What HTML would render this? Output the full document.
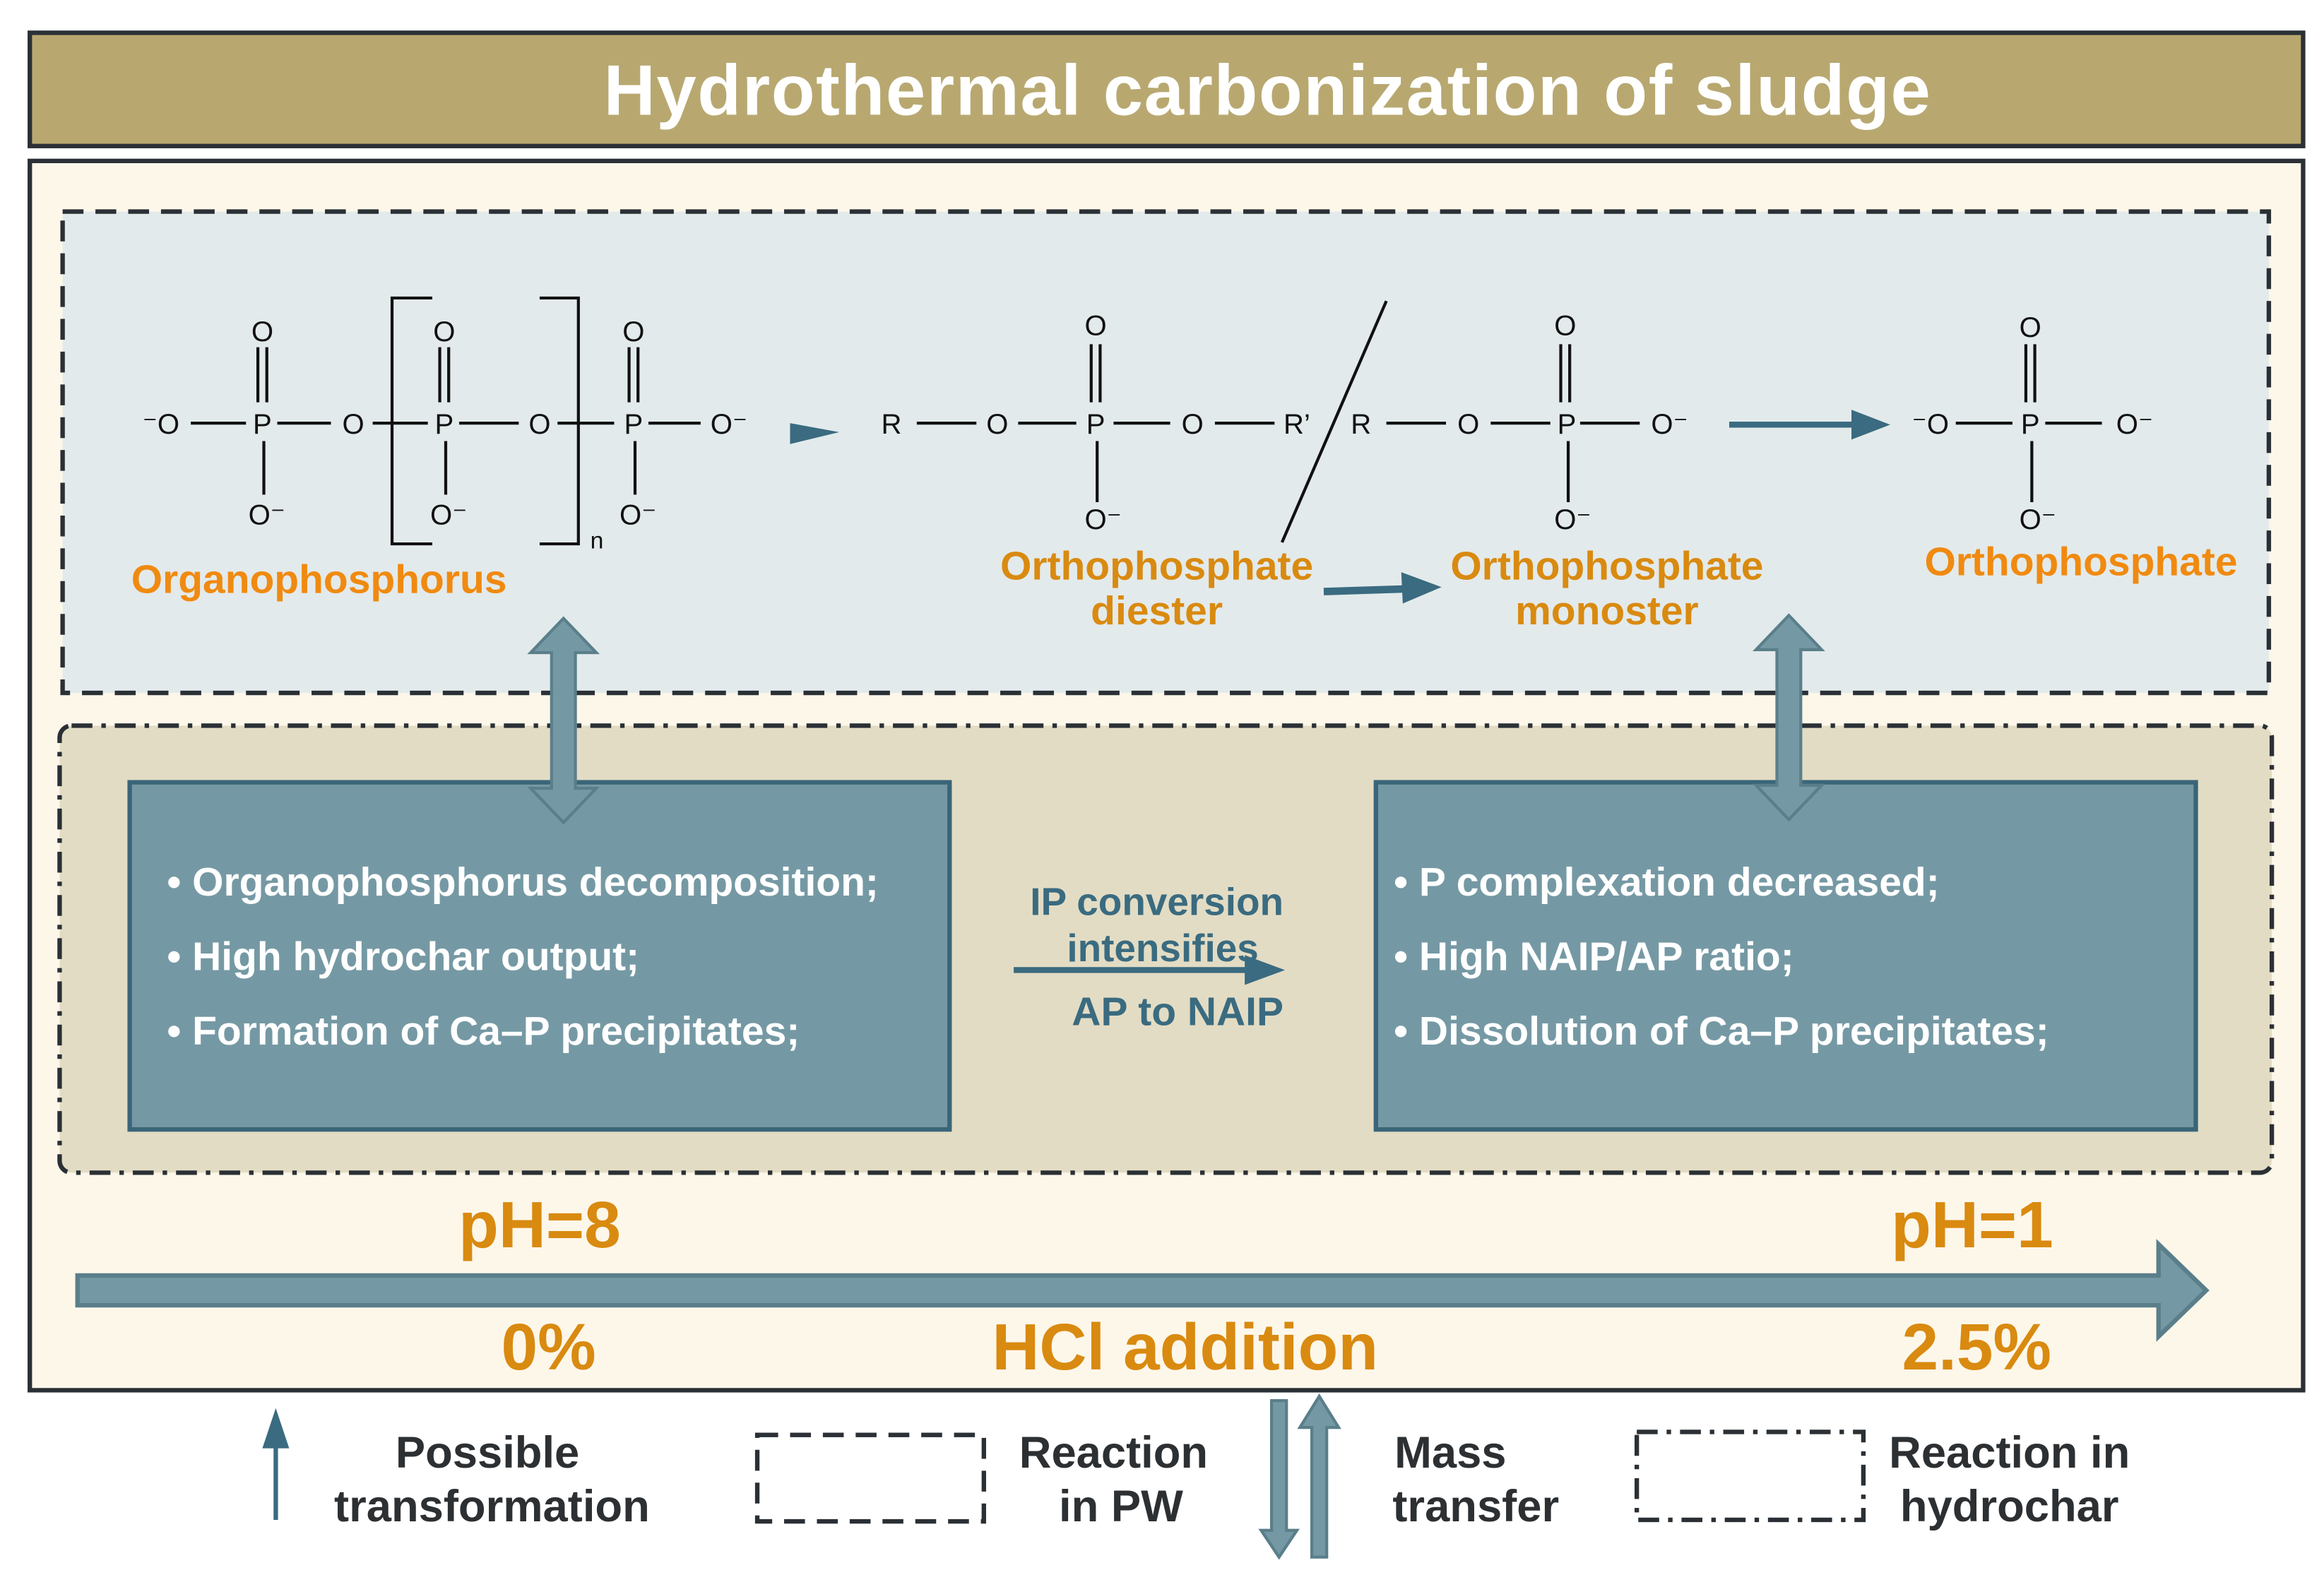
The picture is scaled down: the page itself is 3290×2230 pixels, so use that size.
<!DOCTYPE html>
<html><head><meta charset="utf-8"><style>
html,body{margin:0;padding:0;background:#fff}
svg{display:block}
text{font-family:"Liberation Sans Narrow","Liberation Sans",sans-serif}
.ch{font-family:"Liberation Sans",sans-serif;font-size:19px;fill:#111}
.b{stroke:#111;stroke-width:2;fill:none}
.or{fill:#f08a10;font-weight:bold;font-size:27px}
.od{fill:#d98a10;font-weight:bold;font-size:27px}
.w{fill:#fff;font-weight:bold;font-size:27px}
.lg{fill:#2d3033;font-weight:bold;font-size:30px}
.big{fill:#d98a10;font-weight:bold;font-size:44px}
</style></head><body>
<svg width="3290" height="2230" viewBox="0 0 1559 1057" preserveAspectRatio="none" xmlns="http://www.w3.org/2000/svg">
<defs>
<marker id="ah" viewBox="0 0 10 10" refX="9" refY="5" markerWidth="4" markerHeight="4" orient="auto"><path d="M0,0L10,5L0,10z" fill="#3a6b80"/></marker>
</defs>
<rect x="0" y="0" width="1559" height="1057" fill="#fff"/>
<rect x="20" y="22" width="1525" height="76" fill="#b8a870" stroke="#2a3035" stroke-width="3"/>
<text x="850" y="77" text-anchor="middle" fill="#fff" font-weight="bold" font-size="48" textLength="890">Hydrothermal carbonization of sludge</text>
<rect x="20" y="108" width="1525" height="825" fill="#fdf7ea" stroke="#2a3035" stroke-width="3"/>
<rect x="42" y="142" width="1480" height="323" fill="#e3eaeb" stroke="#2a3035" stroke-width="3" stroke-dasharray="14,8"/>
<rect x="40" y="487" width="1484" height="300" rx="8" fill="#e3dcc4" stroke="#2a3035" stroke-width="3" stroke-dasharray="14,6,3,6"/>
<!-- chemistry: organophosphorus -->
<g class="ch">
<text x="108" y="291" text-anchor="middle">⁻O</text>
<text x="176" y="291" text-anchor="middle">P</text>
<text x="237" y="291" text-anchor="middle">O</text>
<text x="298" y="291" text-anchor="middle">P</text>
<text x="362" y="291" text-anchor="middle">O</text>
<text x="425" y="291" text-anchor="middle">P</text>
<text x="489" y="291" text-anchor="middle">O⁻</text>
<text x="176" y="229" text-anchor="middle">O</text>
<text x="298" y="229" text-anchor="middle">O</text>
<text x="425" y="229" text-anchor="middle">O</text>
<text x="179" y="352" text-anchor="middle">O⁻</text>
<text x="301" y="352" text-anchor="middle">O⁻</text>
<text x="428" y="352" text-anchor="middle">O⁻</text>
<text x="396" y="368" font-size="16">n</text>
<text x="598" y="291" text-anchor="middle">R</text>
<text x="669" y="291" text-anchor="middle">O</text>
<text x="735" y="291" text-anchor="middle">P</text>
<text x="800" y="291" text-anchor="middle">O</text>
<text x="870" y="291" text-anchor="middle">R’</text>
<text x="735" y="225" text-anchor="middle">O</text>
<text x="740" y="355" text-anchor="middle">O⁻</text>
<text x="913" y="291" text-anchor="middle">R</text>
<text x="985" y="291" text-anchor="middle">O</text>
<text x="1051" y="291" text-anchor="middle">P</text>
<text x="1120" y="291" text-anchor="middle">O⁻</text>
<text x="1050" y="225" text-anchor="middle">O</text>
<text x="1055" y="355" text-anchor="middle">O⁻</text>
<text x="1295" y="291" text-anchor="middle">⁻O</text>
<text x="1362" y="291" text-anchor="middle">P</text>
<text x="1432" y="291" text-anchor="middle">O⁻</text>
<text x="1362" y="226" text-anchor="middle">O</text>
<text x="1367" y="355" text-anchor="middle">O⁻</text>
</g>
<g class="b">
<path d="M128,284H165M186,284H222M250,284H287M308,284H348M374,284H412M435,284H470"/>
<path d="M173,233V270M179,233V270M295,233V270M301,233V270M422,233V270M428,233V270"/>
<path d="M177,296V332M299,296V332M426,296V332"/>
<path d="M290,200H263V365H290M362,200H388V365H362"/>
<path d="M615,284H655M683,284H722M747,284H785M815,284H855"/>
<path d="M732,231V270M738,231V270M736,296V337"/>
<path d="M930,202L860,364"/>
<path d="M930,284H970M1000,284H1040M1060,284H1100"/>
<path d="M1047,231V270M1053,231V270M1052,296V337"/>
<path d="M1312,284H1350M1372,284H1410M1359,231V270M1365,231V270M1363,296V337"/>
</g>
<path d="M530,284L563,290L530,298z" fill="#3a6b80"/>
<path d="M1160,285H1262" stroke="#3a6b80" stroke-width="4"/><path d="M1242,275L1268,285L1242,295z" fill="#3a6b80"/>
<path d="M888,397L950,395" stroke="#3a6b80" stroke-width="5"/><path d="M940,384L967,394L941,405z" fill="#3a6b80"/>
<text x="214" y="398" text-anchor="middle" class="or">Organophosphorus</text>
<text x="776" y="389" text-anchor="middle" class="od">Orthophosphate</text>
<text x="776" y="419" text-anchor="middle" class="od">diester</text>
<text x="1078" y="389" text-anchor="middle" class="od">Orthophosphate</text>
<text x="1078" y="419" text-anchor="middle" class="od">monoster</text>
<text x="1396" y="386" text-anchor="middle" class="or" fill="#f08a2a">Orthophosphate</text>
<!-- boxes -->
<rect x="87" y="525" width="550" height="233" fill="#7599a4" stroke="#3a6578" stroke-width="3"/>
<rect x="923" y="525" width="550" height="233" fill="#7599a4" stroke="#3a6578" stroke-width="3"/>
<g class="w">
<text x="112" y="601">• Organophosphorus decomposition;</text>
<text x="112" y="651">• High hydrochar output;</text>
<text x="112" y="701">• Formation of Ca–P precipitates;</text>
<text x="935" y="601">•  P complexation decreased;</text>
<text x="935" y="651">•  High NAIP/AP ratio;</text>
<text x="935" y="701">•  Dissolution of Ca–P precipitates;</text>
</g>
<!-- double arrows -->
<g fill="#7599a4" stroke="#5a7f8a" stroke-width="2">
<path d="M378,415L400,438H386V529H400L378,552L356,529H370V438H356z"/>
<path d="M1200,413L1222,436H1208V527H1222L1200,550L1178,527H1192V436H1178z"/>
</g>
<text x="776" y="614" text-anchor="middle" fill="#3a6b80" font-weight="bold" font-size="26">IP conversion</text>
<text x="780" y="645" text-anchor="middle" fill="#3a6b80" font-weight="bold" font-size="26">intensifies</text>
<path d="M680,651H845" stroke="#3a6b80" stroke-width="4"/><path d="M835,641L862,651L835,661z" fill="#3a6b80"/>
<text x="790" y="688" text-anchor="middle" fill="#3a6b80" font-weight="bold" font-size="27">AP  to NAIP</text>
<!-- big arrow -->
<path d="M52,856H1448V835L1480,866L1448,897V876H52z" fill="#7599a4" stroke="#5a7f8a" stroke-width="3"/>
<text x="362" y="837" text-anchor="middle" class="big">pH=8</text>
<text x="1323" y="837" text-anchor="middle" class="big">pH=1</text>
<text x="368" y="919" text-anchor="middle" class="big">0%</text>
<text x="795" y="919" text-anchor="middle" class="big">HCl addition</text>
<text x="1326" y="919" text-anchor="middle" class="big">2.5%</text>
<!-- legend -->
<path d="M185,1020V960" stroke="#3a6b80" stroke-width="3"/><path d="M176,972L185,945L194,972z" fill="#3a6b80"/>
<text x="327" y="985" text-anchor="middle" class="lg">Possible</text>
<text x="330" y="1021" text-anchor="middle" class="lg">transformation</text>
<rect x="508" y="963" width="152" height="58" fill="none" stroke="#2a3035" stroke-width="3" stroke-dasharray="14,8"/>
<text x="747" y="985" text-anchor="middle" class="lg">Reaction</text>
<text x="752" y="1021" text-anchor="middle" class="lg">in PW</text>
<g fill="#7599a4" stroke="#5a7f8a" stroke-width="2">
<path d="M853,940H863V1027H870L858,1045L846,1027H853z"/>
<path d="M880,1045H890V958H898L885,937L872,958H880z"/>
</g>
<text x="973" y="985" text-anchor="middle" class="lg">Mass</text>
<text x="990" y="1021" text-anchor="middle" class="lg">transfer</text>
<rect x="1098" y="961" width="152" height="59" fill="none" stroke="#2a3035" stroke-width="3" stroke-dasharray="14,6,3,6"/>
<text x="1348" y="985" text-anchor="middle" class="lg">Reaction in</text>
<text x="1348" y="1021" text-anchor="middle" class="lg">hydrochar</text>
</svg>
</body></html>
